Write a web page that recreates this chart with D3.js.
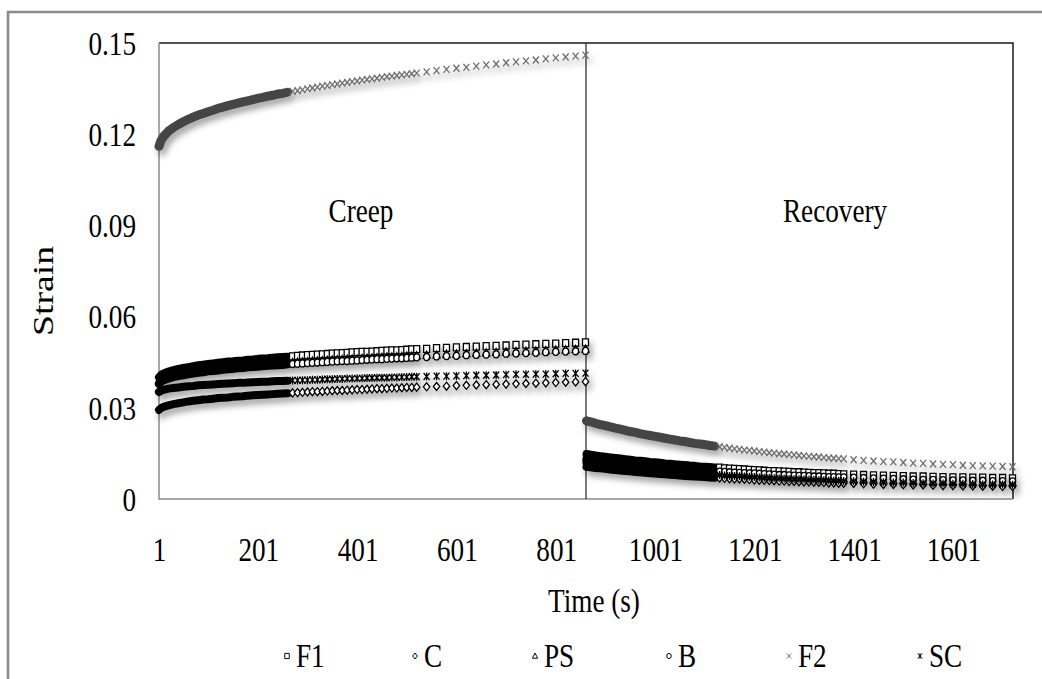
<!DOCTYPE html>
<html>
<head>
<meta charset="utf-8">
<script src="https://cdn.jsdelivr.net/npm/d3@7"></script>
<style>
  body { margin: 0; background: #fff; }
  svg text { font-family: "Liberation Serif", "Times New Roman", serif; fill: #000; }
  .cond { transform-box: fill-box; transform: scaleX(0.8); }
</style>
</head>
<body>
<script>
// time (s)
const creepTime = [1,5,10,20,30,40,50,60,70,80,90,100,110,120,130,140,150,160,170,180,190,200,210,220,230,240,250,260,270,280,290,300,310,320,330,340,350,360,370,380,390,400,410,420,430,440,450,460,470,480,490,500,510,520,540,560,580,600,620,640,660,680,700,720,740,760,780,800,820,840,860];
const recoveryTime = [862,866,870,880,890,900,910,920,930,940,950,960,970,980,990,1000,1010,1020,1030,1040,1050,1060,1070,1080,1090,1100,1110,1120,1130,1140,1150,1160,1170,1180,1190,1200,1210,1220,1230,1240,1250,1260,1270,1280,1290,1300,1310,1320,1330,1340,1350,1360,1370,1380,1400,1420,1440,1460,1480,1500,1520,1540,1560,1580,1600,1620,1640,1660,1680,1700,1720];

// strain during creep
const f1Creep = [.0400,.0408,.0413,.0419,.0424,.0428,.0431,.0434,.0437,.0440,.0442,.0444,.0446,.0448,.0450,.0452,.0453,.0455,.0456,.0458,.0459,.0461,.0462,.0463,.0465,.0466,.0467,.0468,.0469,.0471,.0472,.0473,.0474,.0475,.0476,.0477,.0478,.0479,.0480,.0481,.0482,.0483,.0484,.0484,.0485,.0486,.0487,.0488,.0489,.0489,.0490,.0491,.0492,.0493,.0494,.0496,.0497,.0499,.0500,.0501,.0503,.0504,.0505,.0507,.0508,.0509,.0510,.0511,.0513,.0514,.0515];
const cCreep = [.0293,.0299,.0303,.0308,.0312,.0315,.0318,.0321,.0323,.0325,.0327,.0328,.0330,.0332,.0333,.0334,.0336,.0337,.0338,.0340,.0341,.0342,.0343,.0344,.0345,.0346,.0347,.0348,.0349,.0350,.0351,.0352,.0353,.0353,.0354,.0355,.0356,.0357,.0357,.0358,.0359,.0360,.0360,.0361,.0362,.0363,.0363,.0364,.0365,.0365,.0366,.0367,.0367,.0368,.0369,.0370,.0371,.0373,.0374,.0375,.0376,.0377,.0378,.0379,.0380,.0381,.0382,.0383,.0384,.0385,.0386];
const psCreep = [.0381,.0388,.0393,.0400,.0404,.0408,.0411,.0414,.0417,.0419,.0422,.0424,.0426,.0428,.0429,.0431,.0433,.0434,.0436,.0437,.0439,.0440,.0441,.0443,.0444,.0445,.0446,.0447,.0449,.0450,.0451,.0452,.0453,.0454,.0455,.0456,.0457,.0458,.0459,.0460,.0460,.0461,.0462,.0463,.0464,.0465,.0466,.0467,.0467,.0468,.0469,.0470,.0470,.0471,.0473,.0474,.0476,.0477,.0478,.0480,.0481,.0482,.0484,.0485,.0486,.0487,.0488,.0490,.0491,.0492,.0493];
const bCreep = [.0378,.0385,.0390,.0396,.0401,.0404,.0407,.0410,.0413,.0415,.0417,.0420,.0421,.0423,.0425,.0427,.0428,.0430,.0431,.0433,.0434,.0435,.0437,.0438,.0439,.0440,.0441,.0443,.0444,.0445,.0446,.0447,.0448,.0449,.0450,.0451,.0452,.0453,.0454,.0454,.0455,.0456,.0457,.0458,.0459,.0460,.0460,.0461,.0462,.0463,.0463,.0464,.0465,.0466,.0467,.0469,.0470,.0471,.0473,.0474,.0475,.0476,.0478,.0479,.0480,.0481,.0483,.0484,.0485,.0486,.0487];
const f2Creep = [.1160,.1179,.1192,.1210,.1222,.1232,.1241,.1249,.1256,.1263,.1268,.1274,.1279,.1285,.1289,.1294,.1298,.1302,.1306,.1310,.1314,.1318,.1321,.1325,.1328,.1332,.1334,.1338,.1341,.1343,.1346,.1349,.1352,.1355,.1358,.1360,.1363,.1365,.1368,.1370,.1373,.1375,.1378,.1380,.1382,.1384,.1387,.1389,.1391,.1393,.1395,.1397,.1399,.1401,.1405,.1409,.1413,.1417,.1420,.1424,.1428,.1431,.1435,.1438,.1441,.1444,.1448,.1451,.1454,.1457,.1460];
const scCreep = [.0352,.0356,.0359,.0363,.0365,.0367,.0369,.0371,.0372,.0374,.0375,.0376,.0377,.0378,.0379,.0380,.0381,.0382,.0382,.0383,.0384,.0385,.0386,.0386,.0387,.0388,.0388,.0389,.0390,.0390,.0391,.0391,.0392,.0392,.0393,.0394,.0394,.0395,.0395,.0396,.0396,.0397,.0397,.0398,.0398,.0399,.0399,.0399,.0400,.0400,.0401,.0401,.0402,.0402,.0403,.0404,.0404,.0405,.0406,.0407,.0407,.0408,.0409,.0410,.0410,.0411,.0411,.0412,.0413,.0413,.0414];

// strain during recovery
const f1Recovery = [.0148,.0147,.0146,.0143,.0141,.0139,.0137,.0135,.0133,.0131,.0129,.0127,.0126,.0124,.0122,.0121,.0119,.0117,.0116,.0114,.0113,.0112,.0110,.0109,.0107,.0106,.0105,.0104,.0103,.0101,.0100,.0099,.0098,.0097,.0096,.0095,.0094,.0093,.0092,.0092,.0091,.0090,.0089,.0088,.0088,.0087,.0086,.0085,.0085,.0084,.0083,.0083,.0082,.0081,.0080,.0079,.0078,.0077,.0076,.0075,.0074,.0074,.0073,.0072,.0071,.0071,.0070,.0070,.0069,.0069,.0068];
const cRecovery = [.0106,.0105,.0104,.0102,.0101,.0099,.0097,.0095,.0094,.0092,.0091,.0089,.0088,.0086,.0085,.0084,.0082,.0081,.0080,.0079,.0077,.0076,.0075,.0074,.0073,.0072,.0071,.0070,.0069,.0068,.0067,.0066,.0066,.0065,.0064,.0063,.0062,.0062,.0061,.0060,.0059,.0059,.0058,.0058,.0057,.0056,.0056,.0055,.0055,.0054,.0053,.0053,.0052,.0052,.0051,.0050,.0049,.0048,.0048,.0047,.0046,.0046,.0045,.0044,.0044,.0043,.0043,.0042,.0042,.0041,.0041];
const psRecovery = [.0127,.0126,.0125,.0123,.0121,.0119,.0117,.0115,.0113,.0111,.0110,.0108,.0107,.0105,.0103,.0102,.0100,.0099,.0098,.0096,.0095,.0094,.0092,.0091,.0090,.0089,.0088,.0087,.0086,.0084,.0083,.0083,.0082,.0081,.0080,.0079,.0078,.0077,.0076,.0075,.0075,.0074,.0073,.0072,.0072,.0071,.0070,.0070,.0069,.0069,.0068,.0067,.0067,.0066,.0065,.0064,.0063,.0062,.0061,.0061,.0060,.0059,.0058,.0058,.0057,.0057,.0056,.0055,.0055,.0055,.0054];
const bRecovery = [.0133,.0132,.0131,.0129,.0127,.0125,.0123,.0121,.0119,.0117,.0115,.0114,.0112,.0110,.0109,.0107,.0106,.0104,.0103,.0101,.0100,.0099,.0098,.0096,.0095,.0094,.0093,.0092,.0090,.0089,.0088,.0087,.0086,.0085,.0084,.0084,.0083,.0082,.0081,.0080,.0079,.0079,.0078,.0077,.0076,.0076,.0075,.0074,.0074,.0073,.0072,.0072,.0071,.0071,.0070,.0069,.0068,.0067,.0066,.0065,.0064,.0063,.0063,.0062,.0061,.0061,.0060,.0060,.0059,.0059,.0058];
const f2Recovery = [.0257,.0255,.0254,.0249,.0245,.0241,.0237,.0233,.0230,.0226,.0222,.0219,.0215,.0212,.0209,.0206,.0203,.0200,.0197,.0194,.0191,.0189,.0186,.0183,.0181,.0179,.0176,.0174,.0172,.0170,.0167,.0165,.0163,.0161,.0160,.0158,.0156,.0154,.0152,.0151,.0149,.0148,.0146,.0145,.0143,.0142,.0140,.0139,.0138,.0136,.0135,.0134,.0133,.0132,.0129,.0127,.0125,.0123,.0122,.0120,.0118,.0117,.0115,.0114,.0113,.0111,.0110,.0109,.0108,.0107,.0106];
const scRecovery = [.0120,.0119,.0118,.0116,.0114,.0112,.0110,.0108,.0106,.0104,.0103,.0101,.0100,.0098,.0096,.0095,.0093,.0092,.0091,.0089,.0088,.0087,.0085,.0084,.0083,.0082,.0081,.0080,.0079,.0077,.0076,.0076,.0075,.0074,.0073,.0072,.0071,.0070,.0069,.0068,.0068,.0067,.0066,.0065,.0065,.0064,.0063,.0063,.0062,.0062,.0061,.0060,.0060,.0059,.0058,.0057,.0056,.0055,.0054,.0054,.0053,.0052,.0051,.0051,.0050,.0050,.0049,.0048,.0048,.0048,.0047];

const seriesNames = ["F1", "C", "PS", "B", "F2", "SC"];
const yTicks = [0, 0.03, 0.06, 0.09, 0.12, 0.15];
const yTickLabels = ["0", "0.03", "0.06", "0.09", "0.12", "0.15"];
const xTicks = [1, 201, 401, 601, 801, 1001, 1201, 1401, 1601];
const phaseSplit = 861;
const denseCreepEnd = 260, denseRecoveryEnd = 1120;

const creepVals = [f1Creep, cCreep, psCreep, bCreep, f2Creep, scCreep];
const recoveryVals = [f1Recovery, cRecovery, psRecovery, bRecovery, f2Recovery, scRecovery];

// marker look per series
const markerPath = {
  F1: "M-3,-3.5H3V3.5H-3Z",
  C: "M0,-4L3.2,0L0,4L-3.2,0Z",
  PS: "M0,-4L3.5,3L-3.5,3Z",
  B: "M-3,0A3,3.5 0 1,0 3,0A3,3.5 0 1,0 -3,0Z",
  F2: "M-3,-3.5L3,3.5M-3,3.5L3,-3.5",
  SC: "M-3,-3.5L3,3.5M-3,3.5L3,-3.5M0,-4V4"
};
const markerColor = { F1: "#000", C: "#000", PS: "#000", B: "#000", F2: "#6e6e6e", SC: "#000" };
const bandColor = { F1: "#000", C: "#000", PS: "#000", B: "#000", F2: "#444", SC: "#000" };
const hollow = { F1: true, C: true, PS: true, B: true, F2: false, SC: false };

const W = 1042, H = 679;
const mLeft = 159, mRight = 1013, mTop = 43, mBottom = 499;
const FS = 34;

const svg = d3.create("svg").attr("width", W).attr("height", H);

const defs = svg.append("defs");
const f = defs.append("filter").attr("id", "shadow")
  .attr("x", "-5%").attr("y", "-20%").attr("width", "115%").attr("height", "150%");
f.append("feDropShadow").attr("dx", 3).attr("dy", 5).attr("stdDeviation", 3)
  .attr("flood-color", "#000").attr("flood-opacity", 0.35);

// outer chart border (top + left visible)
svg.append("path").attr("d", "M8,679V12H1042")
  .attr("fill", "none").attr("stroke", "#8a8a8a").attr("stroke-width", 2.5);

const x = d3.scaleLinear().domain([1, 1721]).range([mLeft, mRight]);
const y = d3.scaleLinear().domain([0, 0.15]).range([mBottom, mTop]);

// plot frame
svg.append("path").attr("d", `M${mLeft},${mTop}H${mRight}V${mBottom}`)
  .attr("fill", "none").attr("stroke", "#1a1a1a").attr("stroke-width", 1.5);
svg.append("path").attr("d", `M${mLeft},${mTop}V${mBottom}H${mRight}`)
  .attr("fill", "none").attr("stroke", "#8c8c8c").attr("stroke-width", 1.5);
svg.append("line")
  .attr("x1", x(phaseSplit)).attr("x2", x(phaseSplit))
  .attr("y1", mTop).attr("y2", mBottom)
  .attr("stroke", "#222").attr("stroke-width", 1.2);

// series points
const series = seriesNames.map((name, si) => {
  const pts = [];
  creepTime.forEach((t, i) => { if (creepVals[si][i] != null) pts.push({ t, v: creepVals[si][i] }); });
  recoveryTime.forEach((t, i) => { if (recoveryVals[si][i] != null) pts.push({ t, v: recoveryVals[si][i] }); });
  return { name, pts };
});
const isDense = d => d.t <= denseCreepEnd || (d.t > phaseSplit && d.t <= denseRecoveryEnd);

const line = d3.line().x(d => x(d.t)).y(d => y(d.v));
const plot = svg.append("g").attr("filter", "url(#shadow)");

// densely logged stretches: overlapping markers read as a solid band
series.forEach(s => {
  const segs = [s.pts.filter(d => d.t <= denseCreepEnd),
                s.pts.filter(d => d.t > phaseSplit && d.t <= denseRecoveryEnd)];
  segs.forEach(seg => {
    plot.append("path").attr("d", line(seg))
      .attr("fill", "none").attr("stroke", bandColor[s.name])
      .attr("stroke-width", s.name === "F2" ? 9 : 8)
      .attr("stroke-linecap", "round").attr("stroke-linejoin", "round");
  });
});

// individual markers
series.forEach(s => {
  plot.append("g").selectAll("path").data(s.pts.filter(d => !isDense(d))).join("path")
    .attr("d", markerPath[s.name])
    .attr("transform", d => `translate(${x(d.t)},${y(d.v)})`)
    .attr("fill", hollow[s.name] ? "#fff" : "none")
    .attr("stroke", markerColor[s.name])
    .attr("stroke-width", 1.3);
});

// y axis
const yAxis = svg.append("g").attr("transform", `translate(${mLeft},0)`)
  .call(d3.axisLeft(y).tickValues(yTicks).tickFormat((d, i) => yTickLabels[i]).tickSize(0).tickPadding(23));
yAxis.select(".domain").remove();
yAxis.attr("font-family", null).attr("font-size", null);
yAxis.selectAll("text")
  .attr("font-size", FS).attr("dy", "0.33em")
  .attr("class", "cond").style("transform-origin", "right center");

// x axis
const xAxis = svg.append("g").attr("transform", `translate(0,${mBottom})`)
  .call(d3.axisBottom(x).tickValues(xTicks).tickFormat(d3.format("d")).tickSize(0).tickPadding(0));
xAxis.select(".domain").remove();
xAxis.attr("font-family", null).attr("font-size", null);
xAxis.selectAll("text")
  .attr("font-size", FS).attr("y", 62).attr("dy", 0)
  .attr("class", "cond").style("transform-origin", "center");

// titles
svg.append("text").attr("class", "cond").style("transform-origin", "center")
  .attr("x", 594).attr("y", 612).attr("text-anchor", "middle").attr("font-size", FS)
  .text("Time (s)");
svg.append("text")
  .attr("transform", "translate(53,291) rotate(-90) scale(1.3,1)")
  .attr("text-anchor", "middle").attr("font-size", 29)
  .text("Strain");
svg.append("text").attr("class", "cond").style("transform-origin", "center")
  .attr("x", 361).attr("y", 222).attr("text-anchor", "middle").attr("font-size", FS)
  .text("Creep");
svg.append("text").attr("class", "cond").style("transform-origin", "center")
  .attr("x", 835).attr("y", 222).attr("text-anchor", "middle").attr("font-size", FS)
  .text("Recovery");

// legend
const legendX = [287, 415, 535, 669, 789, 920];
const legend = svg.append("g");
seriesNames.forEach((name, i) => {
  legend.append("path")
    .attr("d", markerPath[name])
    .attr("transform", `translate(${legendX[i]},656) scale(0.75)`)
    .attr("fill", hollow[name] ? "#fff" : "none")
    .attr("stroke", markerColor[name]).attr("stroke-width", 1.3);
  legend.append("text").attr("class", "cond").style("transform-origin", "left center")
    .attr("x", legendX[i] + 9).attr("y", 667).attr("font-size", FS)
    .text(name);
});

d3.select("body").append(() => svg.node());
</script>
</body>
</html>
